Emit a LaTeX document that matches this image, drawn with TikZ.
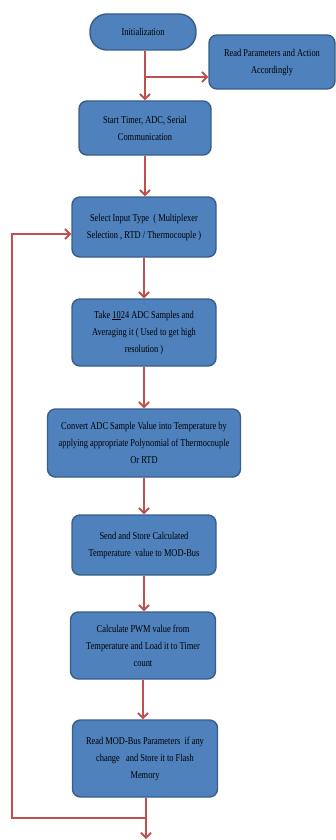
\documentclass[tikz,border=0pt]{standalone}
\usepackage{fontspec}
\setmainfont{Liberation Serif}[FakeStretch=0.8]
\usetikzlibrary{arrows.meta}
\definecolor{boxfill}{HTML}{4F81BD}
\definecolor{boxline}{HTML}{385D8A}
\definecolor{arr}{HTML}{C0504D}
\begin{document}
\begin{tikzpicture}[x=1pt,y=-1pt,
 box/.style={draw=boxline, fill=boxfill, line width=1.4pt, rounded corners=8pt, align=center, inner sep=0pt, font=\fontsize{10.5}{17}\selectfont},
 link/.style={draw=arr, line width=1.9pt},
 conn/.style={link, -{Straight Barb[length=5pt,width=10pt,line width=1.9pt]}}]
\useasboundingbox (0,0) rectangle (336,840);
\node[box, rounded corners=17pt, minimum width=106pt, minimum height=36pt] (init) at (143,32) {Initialization};
\node[box, minimum width=126pt, minimum height=54pt] (read) at (272,62) {Read Parameters and Action\\Accordingly};
\node[box, minimum width=132pt, minimum height=54pt] (start) at (145,128) {Start Timer, ADC, Serial\\Communication};
\node[box, minimum width=144pt, minimum height=60pt] (select) at (144,227) {Select Input Type~~( Multiplexer\\Selection , RTD / Thermocouple )};
\node[box, minimum width=144pt, minimum height=67pt] (take) at (144,332.5) {Take \underline{10}24 ADC Samples and\\Averaging it ( Used to get high\\resolution )};
\node[box, minimum width=193pt, minimum height=68pt] (convert) at (144,443) {Convert ADC Sample Value into Temperature by\\applying appropriate Polynomial of Thermocouple\\Or RTD};
\node[box, minimum width=144pt, minimum height=60pt] (send) at (144,545) {Send and Store Calculated\\Temperature~ value to MOD-Bus};
\node[box, minimum width=145pt, minimum height=67pt] (pwm) at (143,645.5) {Calculate PWM value from\\Temperature and Load it to Timer\\count};
\node[box, minimum width=145pt, minimum height=77pt] (modbus) at (145,758.5) {Read MOD-Bus Parameters~ if any\\change~~ and Store it to Flash\\Memory};
\coordinate (br) at (145,77);
\coordinate (lb) at (146,818);
\coordinate (out) at (146,839);
\coordinate (lc1) at (12,818);
\coordinate (lc2) at (12,234);
\draw[link] (init.south -| br) -- (br);
\draw[conn] (br) -- (start.north -| br);
\draw[conn] (br) -- (read.west |- br);
\draw[conn] (start.south) -- (select.north -| start.south);
\draw[conn] (select.south) -- (take.north);
\draw[conn] (take.south) -- (convert.north);
\draw[conn] (convert.south) -- (send.north);
\draw[conn] (send.south) -- (pwm.north -| send.south);
\draw[conn] (pwm.south) -- (modbus.north -| pwm.south);
\draw[conn] (modbus.south -| lb) -- (out);
\draw[conn] (lb) -- (lc1) -- (lc2) -- (select.west |- lc2);
\end{tikzpicture}
\end{document}
